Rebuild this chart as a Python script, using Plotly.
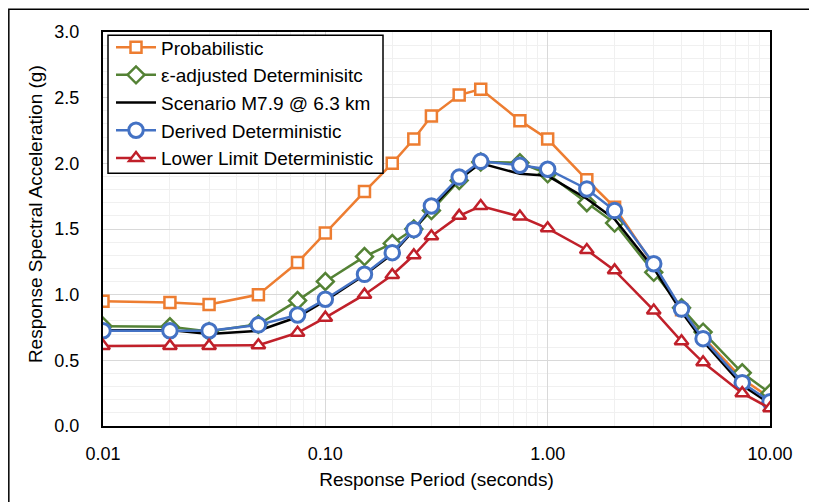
import plotly.graph_objects as go

periods = [0.01, 0.02, 0.03, 0.05, 0.075, 0.1, 0.15, 0.2, 0.25, 0.3, 0.4, 0.5,
           0.75, 1.0, 1.5, 2.0, 3.0, 4.0, 5.0, 7.5, 10.0]

probabilistic = [0.95, 0.94, 0.925, 1.0, 1.245, 1.47, 1.785, 2.0, 2.185, 2.36, 2.52, 2.565,
                 2.325, 2.185, 1.875, 1.665, 1.225, 0.885, 0.675, 0.36, 0.215]
eps_adjusted = [0.76, 0.755, 0.72, 0.775, 0.955, 1.10, 1.29, 1.39, 1.50, 1.64, 1.87, 2.01,
                2.005, 1.92, 1.70, 1.545, 1.17, 0.90, 0.715, 0.405, 0.25]
scenario = [0.73, 0.73, 0.70, 0.725, 0.83, 0.955, 1.15, 1.31, 1.49, 1.66, 1.88, 2.00,
            1.92, 1.905, 1.73, 1.575, 1.20, 0.87, 0.645, 0.31, 0.17]
derived = [0.725, 0.725, 0.725, 0.77, 0.845, 0.965, 1.155, 1.32, 1.495, 1.675, 1.895, 2.015,
           1.985, 1.955, 1.805, 1.64, 1.235, 0.89, 0.665, 0.33, 0.185]
lower_limit = [0.61, 0.61, 0.61, 0.615, 0.71, 0.825, 1.0, 1.15, 1.30, 1.445, 1.60, 1.675,
               1.595, 1.505, 1.34, 1.185, 0.88, 0.645, 0.485, 0.25, 0.135]

names = ["Probabilistic", "ε-adjusted Determinisitc", "Scenario M7.9 @ 6.3 km",
         "Derived Deterministic", "Lower Limit Deterministic"]
x_ticks = [0.01, 0.1, 1, 10]
x_ticklabels = ["0.01", "0.10", "1.00", "10.00"]

FONT = "Liberation Sans, Arial, sans-serif"

fig = go.Figure()

def add(y, name, color, symbol, size, mlw):
    kw = {}
    if symbol:
        kw["marker"] = dict(symbol=symbol, size=size, color="white",
                            line=dict(color=color, width=mlw))
    fig.add_trace(go.Scatter(
        x=periods, y=y, name=name, legendgroup=name,
        mode="lines+markers" if symbol else "lines",
        line=dict(color=color, width=2.5), **kw,
    ))

add(probabilistic, names[0], "#ED7D31", "square", 11, 2.5)
add(eps_adjusted, names[1], "#548235", "diamond", 13, 2.5)
add(scenario, names[2], "#000000", None, 0, 0)
add(derived, names[3], "#4472C4", "circle", 14.5, 3)
add(lower_limit, names[4], "#C0202A", "triangle-up", 12, 2.5)

# the page body has an 8px margin; the figure is sized to fit the 817x502 window
fig.update_layout(
    width=809, height=494,
    margin=dict(l=95, r=47, t=24, b=76),
    paper_bgcolor="white", plot_bgcolor="white",
    font=dict(family=FONT, color="black", size=18),
    showlegend=True,
    legend=dict(
        x=0.012, y=1.0094, xanchor="left", yanchor="top",
        bgcolor="rgba(0,0,0,0)", borderwidth=0,
        font=dict(family=FONT, size=19, color="black"),
        tracegroupgap=0, itemwidth=40,
    ),
)

fig.update_xaxes(
    type="log", range=[-2, 1],
    tickvals=x_ticks, ticktext=x_ticklabels,
    showline=True, linecolor="black", linewidth=2, mirror=True,
    showgrid=True, gridcolor="#D9D9D9", gridwidth=1,
    minor=dict(dtick="D1", showgrid=True, gridcolor="#F0F0F0", gridwidth=1),
    ticks="", ticklabelstandoff=10,
    tickfont=dict(size=18),
    title=dict(text="Response Period (seconds)", font=dict(size=19), standoff=10),
    zeroline=False,
)
fig.update_yaxes(
    range=[0, 3], dtick=0.5, tickformat=".1f",
    showline=True, linecolor="black", linewidth=2, mirror=True,
    showgrid=True, gridcolor="#D9D9D9", gridwidth=1,
    minor=dict(dtick=0.1, showgrid=True, gridcolor="#F0F0F0", gridwidth=1),
    ticks="", ticklabelstandoff=18,
    tickfont=dict(size=18),
    zeroline=False,
)

fig.add_annotation(
    text="Response Spectral Acceleration (g)", textangle=-90,
    xref="paper", yref="paper", x=-0.102, y=0.5377,
    xanchor="center", yanchor="middle", showarrow=False,
    font=dict(family=FONT, size=19, color="black"),
)

# legend box
fig.add_shape(type="rect", xref="paper", yref="paper",
              x0=0.0075, x1=0.4198, y0=0.6416, y1=0.9916,
              fillcolor="white", line=dict(color="black", width=1.5), layer="above")

# outer chart frame
fig.add_shape(type="rect", xref="paper", yref="paper",
              x0=-0.1412, x1=1.0675, y0=-0.25, y1=1.058,
              line=dict(color="black", width=1.5), layer="below")

fig.write_html("out.html")
